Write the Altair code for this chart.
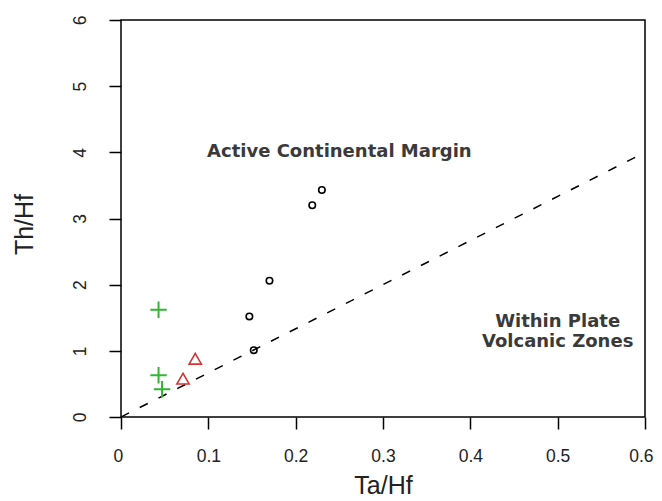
import altair as alt
import pandas as pd

# Data
circle_x = [0.230, 0.219, 0.170, 0.147, 0.152]
circle_y = [3.43, 3.20, 2.06, 1.52, 1.01]

plus_x = [0.043, 0.043, 0.047]
plus_y = [1.62, 0.63, 0.42]

tri_x = [0.085, 0.071]
tri_y = [0.88, 0.58]

line_x = [0.0, 0.6]
line_y = [0.0, 4.0]

ann_x = [0.25, 0.50]
ann_y = [4.0, 1.44]
ann_text = ["Active Continental Margin", "Within Plate\nVolcanic Zones"]

x_ticks = [0, 0.1, 0.2, 0.3, 0.4, 0.5, 0.6]
y_ticks = [0, 1, 2, 3, 4, 5, 6]

FONT = "Liberation Sans"

xscale = alt.Scale(domain=[0, 0.6], nice=False, zero=False)
yscale = alt.Scale(domain=[0, 6], nice=False, zero=False)

xaxis = alt.Axis(
    title="Ta/Hf", values=x_ticks, format=".1~f",
    labelPadding=18, labelFlush=True, labelFlushOffset=8,
    titleX=262, titleY=68, titleBaseline="middle", titleAlign="center",
)
yaxis = alt.Axis(
    title="Th/Hf", values=y_ticks, format="d",
    labelPadding=20, labelAngle=-90, labelAlign="center", labelBaseline="bottom",
    labelFlush=False,
    titleX=-97, titleY=204, titleBaseline="middle", titleAlign="center", titleAngle=-90,
)

circles = pd.DataFrame({"x": circle_x, "y": circle_y})
pluses = pd.DataFrame({"x": plus_x, "y": plus_y})
tris = pd.DataFrame({"x": tri_x, "y": tri_y})
line = pd.DataFrame({"x": line_x, "y": line_y})
ann = pd.DataFrame({"x": ann_x, "y": ann_y, "t": ann_text})

X = alt.X("x:Q", scale=xscale, axis=xaxis)
Y = alt.Y("y:Q", scale=yscale, axis=yaxis)

line_layer = alt.Chart(line).mark_line(
    color="black", strokeWidth=1.5, strokeDash=[9, 12], clip=True
).encode(x=X, y=Y)

circ_layer = alt.Chart(circles).mark_point(
    shape="circle", filled=False, color="black", size=42, strokeWidth=1.6, opacity=1
).encode(x=X, y=Y)

plus_layer = alt.Chart(pluses).mark_point(
    shape="M-1,0H1M0,-1V1", filled=False, color="#2eb82e", size=270, strokeWidth=2, opacity=1
).encode(x=X, y=Y)

tri_layer = alt.Chart(tris).mark_point(
    shape="triangle-up", filled=False, color="#d43333", size=150, strokeWidth=1.6, opacity=1
).encode(x=X, y=Y)

text_layer = alt.Chart(ann).mark_text(
    font="DejaVu Sans", fontWeight="bold", fontSize=18, color="#3a3a3a",
    align="center", baseline="middle", lineBreak="\n", lineHeight=20
).encode(x=X, y=Y, text="t:N")

chart = alt.layer(line_layer, circ_layer, plus_layer, tri_layer, text_layer).properties(
    width=524, height=397,
    autosize=alt.AutoSizeParams(type="none"),
    padding={"left": 113, "top": 12, "right": 9, "bottom": 80},
    background="white",
).configure_view(
    stroke="black", strokeWidth=1.5
).configure_axis(
    grid=False, domain=False,
    tickSize=12, tickWidth=1.5, tickColor="black",
    labelFontSize=17.5, labelFont=FONT, labelColor="#222",
    labelOverlap=False,
    titleFont=FONT, titleFontSize=25, titleFontWeight="normal", titleColor="#222",
)

chart.save("out.html", embed_options={"renderer": "svg", "actions": False})
